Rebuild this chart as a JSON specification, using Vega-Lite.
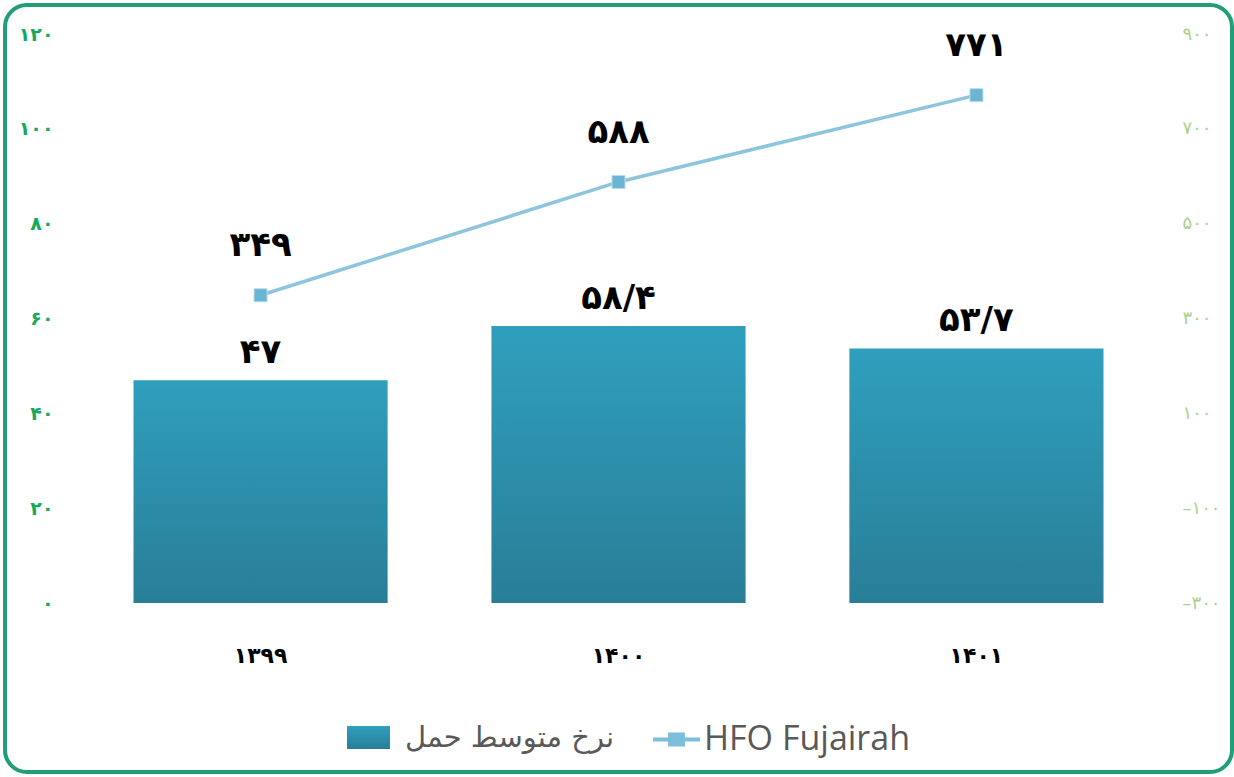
{
  "$schema": "https://vega.github.io/schema/vega-lite/v6.json",
  "width": 1227,
  "height": 767,
  "padding": 5,
  "background": "white",
  "config": {
    "view": {"stroke": "#1f9e78", "strokeWidth": 4, "cornerRadius": 22},
    "axis": {"grid": false, "domain": false, "ticks": false, "title": null}
  },
  "data": {
    "values": [
      {"year": "۱۳۹۹", "rate": 47, "rateLabel": "۴۷", "price": 349, "priceLabel": "۳۴۹", "s1": "نرخ متوسط حمل", "s2": "HFO Fujairah"},
      {"year": "۱۴۰۰", "rate": 58.4, "rateLabel": "۵۸/۴", "price": 588, "priceLabel": "۵۸۸", "s1": "نرخ متوسط حمل", "s2": "HFO Fujairah"},
      {"year": "۱۴۰۱", "rate": 53.7, "rateLabel": "۵۳/۷", "price": 771, "priceLabel": "۷۷۱", "s1": "نرخ متوسط حمل", "s2": "HFO Fujairah"}
    ]
  },
  "encoding": {
    "x": {
      "field": "year", "type": "nominal", "sort": null,
      "scale": {"paddingInner": 0.29, "paddingOuter": 0.359},
      "axis": {"orient": "bottom", "offset": -127, "labelPadding": 0, "labelAngle": 0, "labelFont": "DejaVu Sans", "labelFontWeight": "bold", "labelFontSize": 22, "labelColor": "black", "title": null}
    }
  },
  "layer": [
    {
      "encoding": {
        "y": {
          "field": "rate", "type": "quantitative",
          "scale": {"domain": [-35.64, 126.12], "nice": false, "zero": false},
          "axis": {
            "orient": "left", "values": [0, 20, 40, 60, 80, 100, 120], "offset": -48, "labelPadding": 0,
            "labelFont": "DejaVu Sans", "labelFontWeight": "bold", "labelFontSize": 19, "labelColor": "#14aa5c",
            "labelExpr": "replace(replace(replace(replace(replace(replace(replace(replace(replace(replace(datum.label,regexp('0','g'),'۰'),regexp('1','g'),'۱'),regexp('2','g'),'۲'),regexp('3','g'),'۳'),regexp('4','g'),'۴'),regexp('5','g'),'۵'),regexp('6','g'),'۶'),regexp('7','g'),'۷'),regexp('8','g'),'۸'),regexp('9','g'),'۹')"
          }
        }
      },
      "layer": [
        {
          "mark": {"type": "bar", "color": {"gradient": "linear", "x1": 0, "y1": 0, "x2": 0, "y2": 1, "stops": [{"offset": 0, "color": "#2f9fbd"}, {"offset": 1, "color": "#297e97"}]}},
          "encoding": {
            "y2": {"datum": 0},
            "opacity": {
              "field": "s1", "type": "nominal",
              "scale": {"range": [1]},
              "legend": {"orient": "none", "legendX": 342, "legendY": 711, "title": null, "padding": 0, "symbolType": "M-1,-0.535H1V0.535H-1Z", "symbolSize": 1849, "symbolStrokeWidth": 0, "labelFont": "DejaVu Sans", "labelFontSize": 29, "labelColor": "#595959", "labelOffset": 15, "labelLimit": 0,
                "encode": {"symbols": {"update": {"fill": {"value": "#2c8dab"}, "stroke": {"value": "#2c8dab"}, "strokeWidth": {"value": 0}, "opacity": {"value": 1}}}}}
            }
          }
        },
        {
          "mark": {"type": "text", "baseline": "bottom", "dy": -10, "font": "DejaVu Sans", "fontWeight": "bold", "fontSize": 34, "fill": "black"},
          "encoding": {"text": {"field": "rateLabel"}}
        }
      ]
    },
    {
      "encoding": {
        "y": {
          "field": "price", "type": "quantitative",
          "scale": {"domain": [-656.4, 961.16], "nice": false, "zero": false},
          "axis": {
            "orient": "right", "values": [-300, -100, 100, 300, 500, 700, 900], "offset": -50, "labelPadding": 0,
            "labelFont": "DejaVu Sans", "labelFontSize": 18, "labelColor": "#a9d18e",
            "labelExpr": "replace(replace(replace(replace(replace(replace(replace(replace(replace(replace(replace(datum.label,regexp('\u2212','g'),'\u2013'),regexp('0','g'),'۰'),regexp('1','g'),'۱'),regexp('2','g'),'۲'),regexp('3','g'),'۳'),regexp('4','g'),'۴'),regexp('5','g'),'۵'),regexp('6','g'),'۶'),regexp('7','g'),'۷'),regexp('8','g'),'۸'),regexp('9','g'),'۹')"
          }
        }
      },
      "layer": [
        {
          "mark": {"type": "line", "strokeWidth": 3.5},
          "encoding": {
            "stroke": {
              "field": "s2", "type": "nominal",
              "scale": {"range": ["#8dc5dc"]},
              "legend": {"orient": "none", "legendX": 648, "legendY": 711, "title": null, "padding": 0, "symbolType": "M-1,-0.085H1V0.085H-1Z M-0.36,-0.3H0.36V0.3H-0.36Z", "symbolSize": 2209, "labelFont": "Open Sans", "labelFontSize": 34, "labelColor": "#595959", "labelOffset": 4, "labelLimit": 0,
                "encode": {"symbols": {"update": {"fill": {"value": "#7dbfdb"}, "stroke": {"value": "#7dbfdb"}, "strokeWidth": {"value": 0}}}}}
            }
          }
        },
        {
          "mark": {"type": "point", "shape": "square", "size": 170, "filled": true, "fill": "#6cb4d4", "stroke": "#b8dded", "strokeWidth": 1, "opacity": 1}
        },
        {
          "mark": {"type": "text", "baseline": "bottom", "dy": -32, "font": "DejaVu Sans", "fontWeight": "bold", "fontSize": 34, "fill": "black"},
          "encoding": {"text": {"field": "priceLabel"}}
        }
      ]
    }
  ],
  "resolve": {"scale": {"y": "independent", "opacity": "independent", "stroke": "independent"}}
}
